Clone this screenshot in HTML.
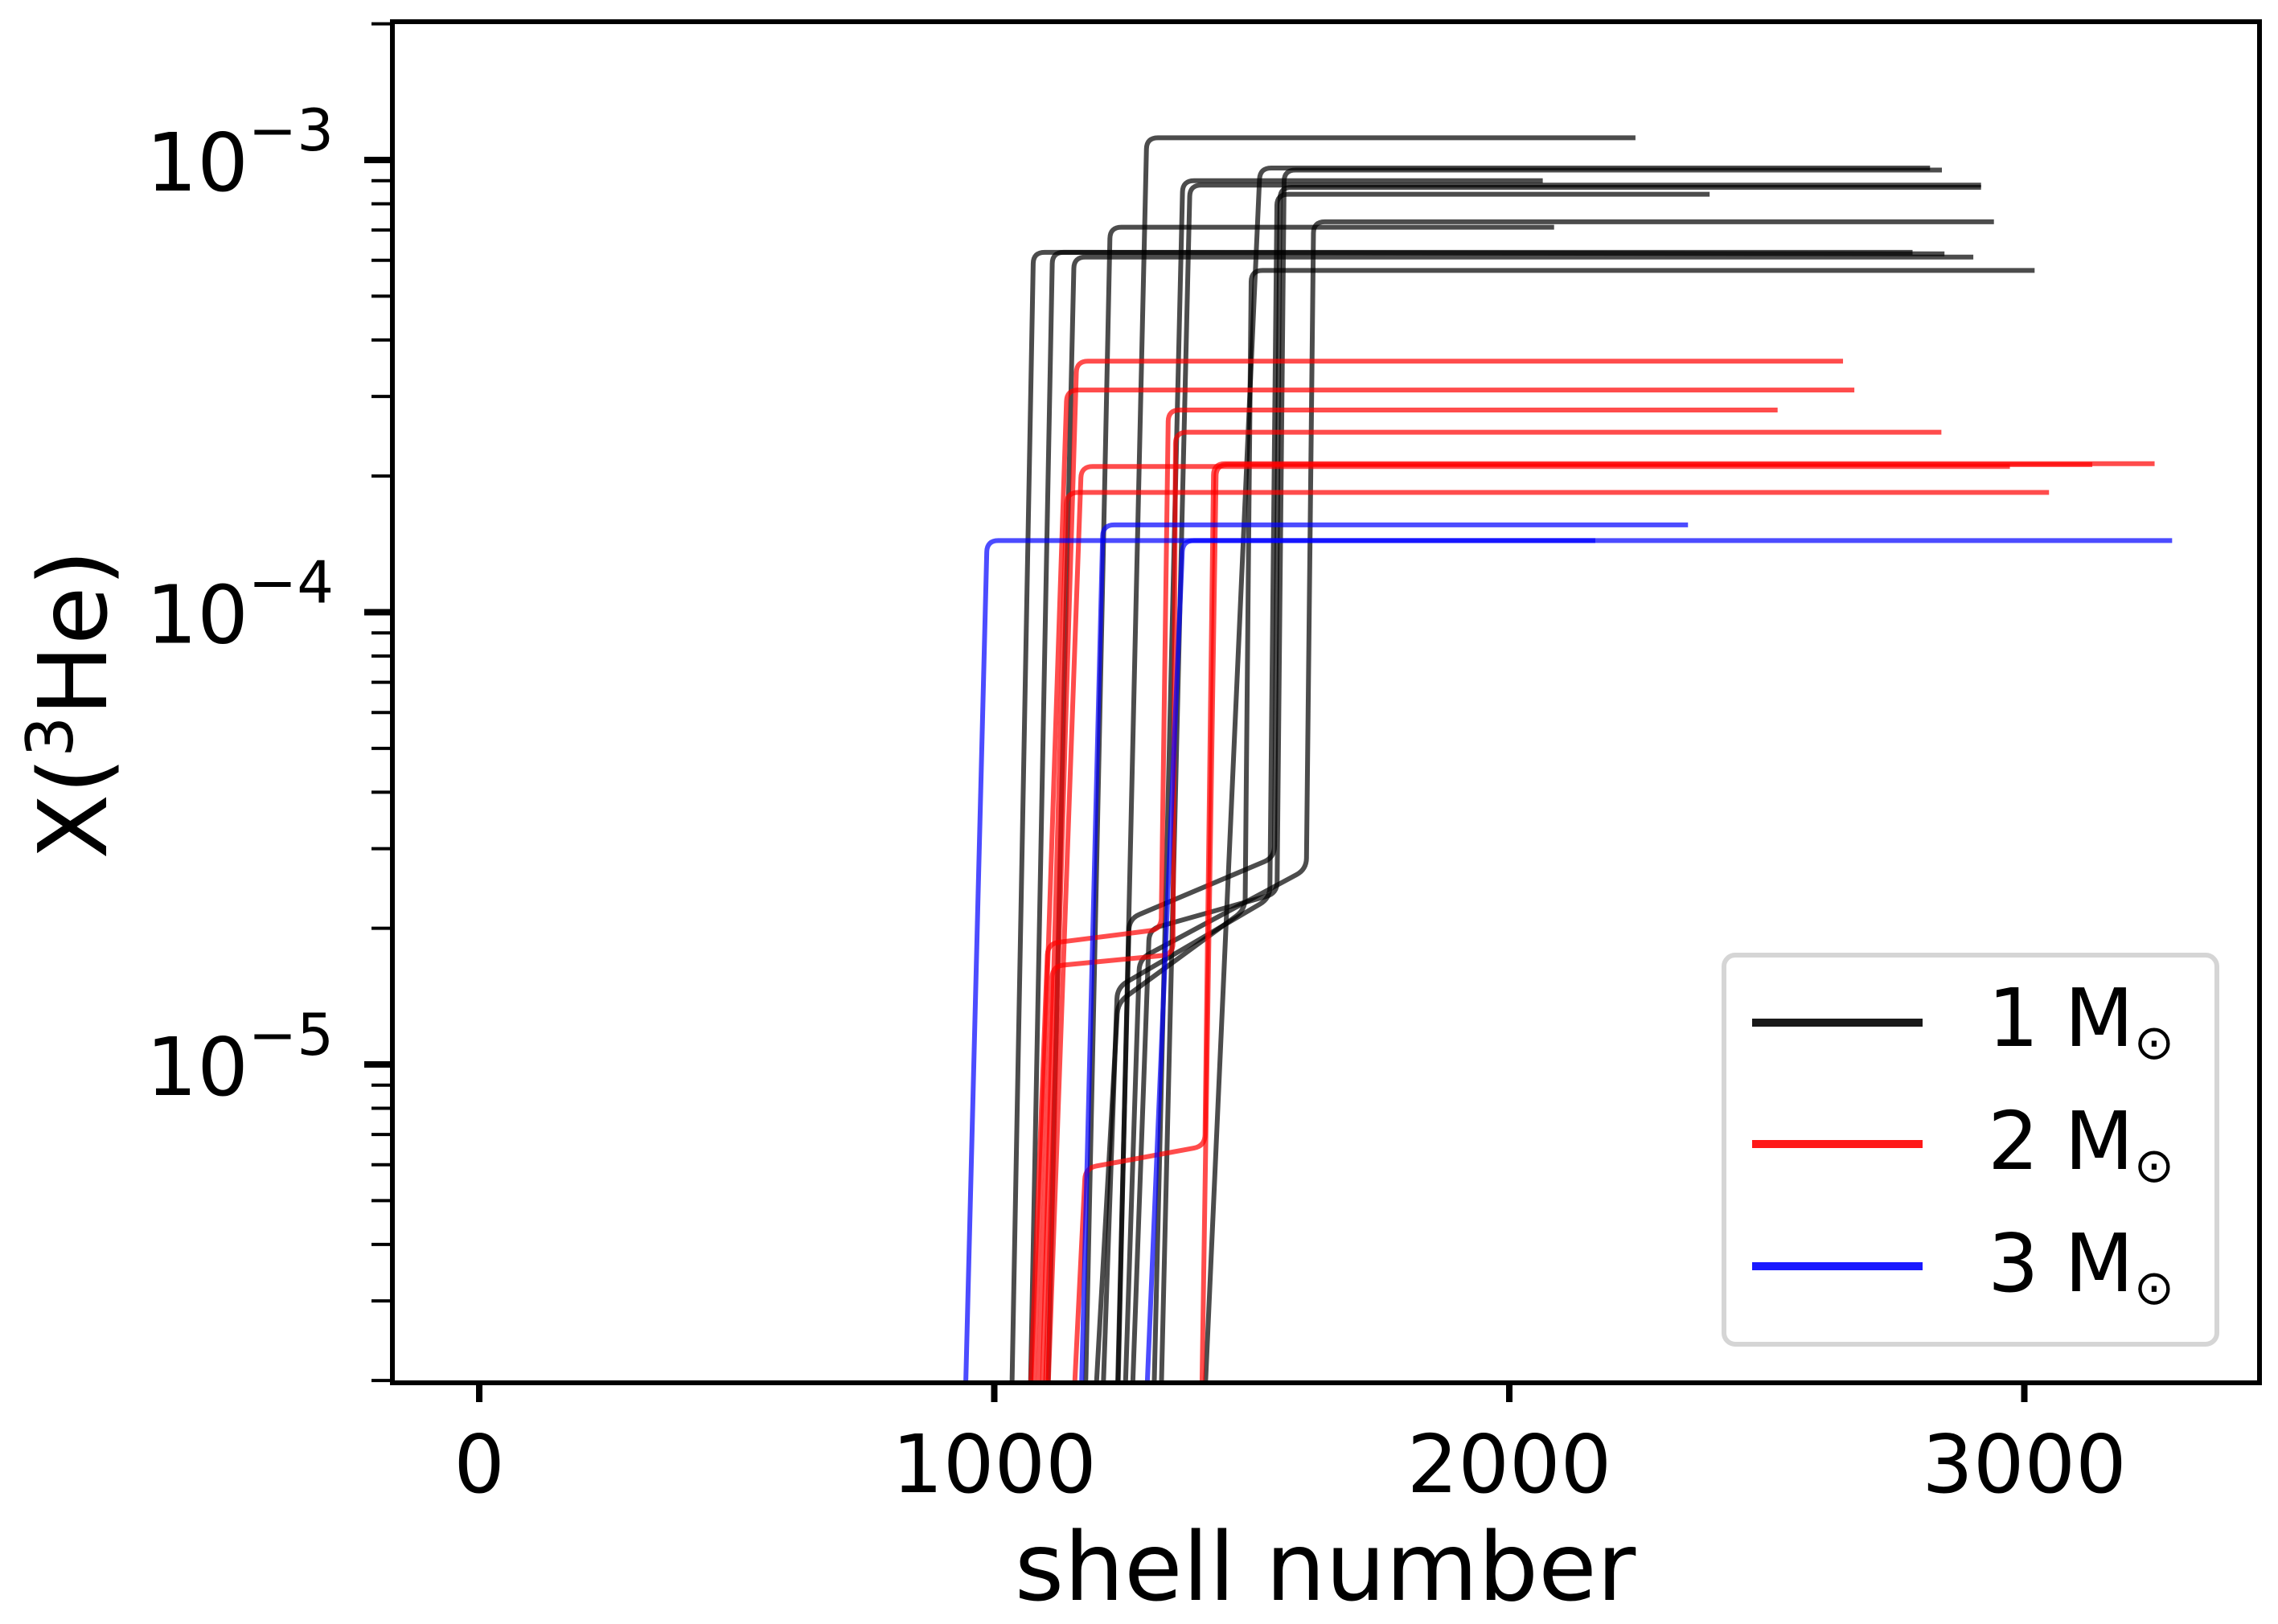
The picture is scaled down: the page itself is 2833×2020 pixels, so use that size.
<!DOCTYPE html>
<html><head><meta charset="utf-8"><style>
html,body{margin:0;padding:0;background:#fff}
svg{display:block}
text{font-family:"DejaVu Sans","Liberation Sans",sans-serif;fill:#000}
</style></head><body>
<svg id="chart" width="2833" height="2020" viewBox="0 0 2833 2020" xmlns="http://www.w3.org/2000/svg">
<g id="curves"></g>
<g id="axes"></g>
<text x="1648" y="1990" font-size="118" text-anchor="middle">shell number</text>
<text transform="translate(132,876) rotate(-90)" font-size="118" text-anchor="middle">X(<tspan font-size="80" dy="-42">3</tspan><tspan dy="42">He)</tspan></text>
<g>
<rect x="2144" y="1188" width="613" height="484" rx="14" fill="#fff" fill-opacity="0.8" stroke="#d5d5d5" stroke-width="6"/>
<line x1="2179" x2="2391" y1="1272" y2="1272" stroke="#000" stroke-opacity="0.9" stroke-width="10"/>
<text x="2472" y="1301" font-size="100">1 M<tspan font-size="60" dy="16">⊙</tspan></text>
<line x1="2179" x2="2391" y1="1423" y2="1423" stroke="#f00" stroke-opacity="0.9" stroke-width="10"/>
<text x="2472" y="1454" font-size="100">2 M<tspan font-size="60" dy="16">⊙</tspan></text>
<line x1="2179" x2="2391" y1="1575" y2="1575" stroke="#00f" stroke-opacity="0.9" stroke-width="10"/>
<text x="2472" y="1606" font-size="100">3 M<tspan font-size="60" dy="16">⊙</tspan></text>
</g>
</svg>
<script>
// Tick data
const xTicks = [0, 1000, 2000, 3000];
const yMajorExp = [-3, -4, -5];
// Series: each curve = shells array + values array
const mass1Shells = [
 [1240,1296,2245],[1409,1516,2817],[1268,1301,1549,1563,2840],[1310,1366,2065],[1324,1380,2916],
 [1239,1262,1544,1555,2916],[1211,1239,1535,1549,2389],[1254,1282,1606,1620,2941],[1177,1225,2087],
 [1034,1076,2783],[1070,1113,2845],[1104,1155,2901],[1197,1240,1487,1499,3020]
];
const mass1Values = [
 [2e-6,1.12e-3,1.12e-3],[2e-6,9.6e-4,9.6e-4],[2e-6,1.99e-5,2.39e-5,9.5e-4,9.5e-4],[2e-6,9.0e-4,9.0e-4],[2e-6,8.8e-4,8.8e-4],
 [2e-6,2.1e-5,2.87e-5,8.7e-4,8.7e-4],[2e-6,1.48e-5,2.33e-5,8.4e-4,8.4e-4],[2e-6,1.71e-5,2.7e-5,7.3e-4,7.3e-4],[2e-6,7.1e-4,7.1e-4],
 [2e-6,6.25e-4,6.25e-4],[2e-6,6.25e-4,6.2e-4],[2e-6,6.1e-4,6.1e-4],[2e-6,1.37e-5,2.2e-5,5.7e-4,5.7e-4]
];
const mass2Shells = [
 [1099,1160,2648],[1076,1141,2670],[1070,1104,1324,1338,2521],[1085,1113,1347,1352,2839],
 [1155,1177,1409,1426,3253],[1403,1431,3132],[1104,1169,2972],[1093,1141,3048]
];
const mass2Values = [
 [2e-6,3.59e-4,3.59e-4],[2e-6,3.1e-4,3.1e-4],[2e-6,1.85e-5,1.99e-5,2.8e-4,2.8e-4],[2e-6,1.65e-5,1.75e-5,2.5e-4,2.5e-4],
 [2e-6,5.9e-6,6.6e-6,2.13e-4,2.13e-4],[2e-6,2.12e-4,2.12e-4],[2e-6,2.1e-4,2.1e-4],[2e-6,1.84e-4,1.84e-4]
];
const mass3Shells = [[944,986,3287],[1169,1211,2347],[1296,1366,2167]];
const mass3Values = [[2e-6,1.44e-4,1.44e-4],[2e-6,1.56e-4,1.56e-4],[2e-6,1.44e-4,1.44e-4]];

const X0=596, XS=0.6405, Y3=199, YD=562.5;
const L=488, R=2810, T=27, B=1720;
function sx(v){return X0+v*XS;}
function sy(v){return Y3+(-3-Math.log10(v))*YD;}
const NS='http://www.w3.org/2000/svg';
const cg=document.getElementById('curves');
const clip=document.createElementNS(NS,'clipPath');clip.setAttribute('id','pc');
const cr=document.createElementNS(NS,'rect');cr.setAttribute('x',L);cr.setAttribute('y',T);cr.setAttribute('width',R-L);cr.setAttribute('height',B-T);
clip.appendChild(cr);document.getElementById('chart').appendChild(clip);
cg.setAttribute('clip-path','url(#pc)');
function pathFor(xs,ys){
  const p=xs.map((x,i)=>[sx(x),sy(ys[i])]);
  let d='M'+p[0][0]+','+(p[0][1]+20);
  for(let i=1;i<p.length-1;i++){
    const a=p[i-1],b=p[i],c=p[i+1];
    const r=14;
    const l1=Math.hypot(b[0]-a[0],b[1]-a[1]),l2=Math.hypot(c[0]-b[0],c[1]-b[1]);
    const r1=Math.min(r,l1/2),r2=Math.min(r,l2/2);
    const s=[b[0]-(b[0]-a[0])*r1/l1,b[1]-(b[1]-a[1])*r1/l1];
    const e=[b[0]+(c[0]-b[0])*r2/l2,b[1]+(c[1]-b[1])*r2/l2];
    d+=' L'+s[0]+','+s[1]+' Q'+b[0]+','+b[1]+' '+e[0]+','+e[1];
  }
  const q=p[p.length-1];d+=' L'+q[0]+','+q[1];
  return d;
}
function drawSet(shells,vals,color,name){
  shells.forEach((xs,i)=>{
    const el=document.createElementNS(NS,'path');
    el.setAttribute('d',pathFor(xs,vals[i]));
    el.setAttribute('fill','none');el.setAttribute('stroke',color);
    el.setAttribute('stroke-opacity','0.7');el.setAttribute('stroke-width','6');
    
    
    cg.appendChild(el);
  });
}
drawSet(mass1Shells,mass1Values,'#000','1msun');
drawSet(mass2Shells,mass2Values,'#f00','2msun');
drawSet(mass3Shells,mass3Values,'#00f','3msun');

const ag=document.getElementById('axes');
function ln(x1,y1,x2,y2,w,nm){const l=document.createElementNS(NS,'line');
 l.setAttribute('x1',x1);l.setAttribute('y1',y1);l.setAttribute('x2',x2);l.setAttribute('y2',y2);
 l.setAttribute('stroke','#000');l.setAttribute('stroke-width',w);
 
 
 ag.appendChild(l);}
ln(L,T-3,L,B+3,6,'y-axis-spine');ln(L-3,B,R+3,B,6,'x-axis-spine');
ln(R,T-3,R,B+3,6,'right-spine');ln(L-3,T,R+3,T,6,'top-spine');
xTicks.forEach(v=>{
  ln(sx(v),B,sx(v),B+24,8,'x-tick');
  const t=document.createElementNS(NS,'text');t.setAttribute('x',sx(v));t.setAttribute('y',B+136);
  t.setAttribute('font-size','100');t.setAttribute('text-anchor','middle');t.textContent=v;
  
  
  ag.appendChild(t);
});
for(let e=-6;e<=-3;e++){for(let m=2;m<=9;m++){const v=m*Math.pow(10,e);const y=sy(v);
  if(y>T&&y<B) ln(L-26,y,L,y,4,'y-minor-tick');}}
yMajorExp.forEach(e=>{
  const y=sy(Math.pow(10,e));ln(L-35,y,L,y,8,'y-major-tick');
  const t=document.createElementNS(NS,'text');t.setAttribute('x',415);t.setAttribute('y',y+38);
  t.setAttribute('font-size','100');t.setAttribute('text-anchor','end');
  t.innerHTML='10<tspan font-size="72" dy="-50">−'+(-e)+'</tspan>';
  
  
  ag.appendChild(t);
});
</script>
</body></html>
